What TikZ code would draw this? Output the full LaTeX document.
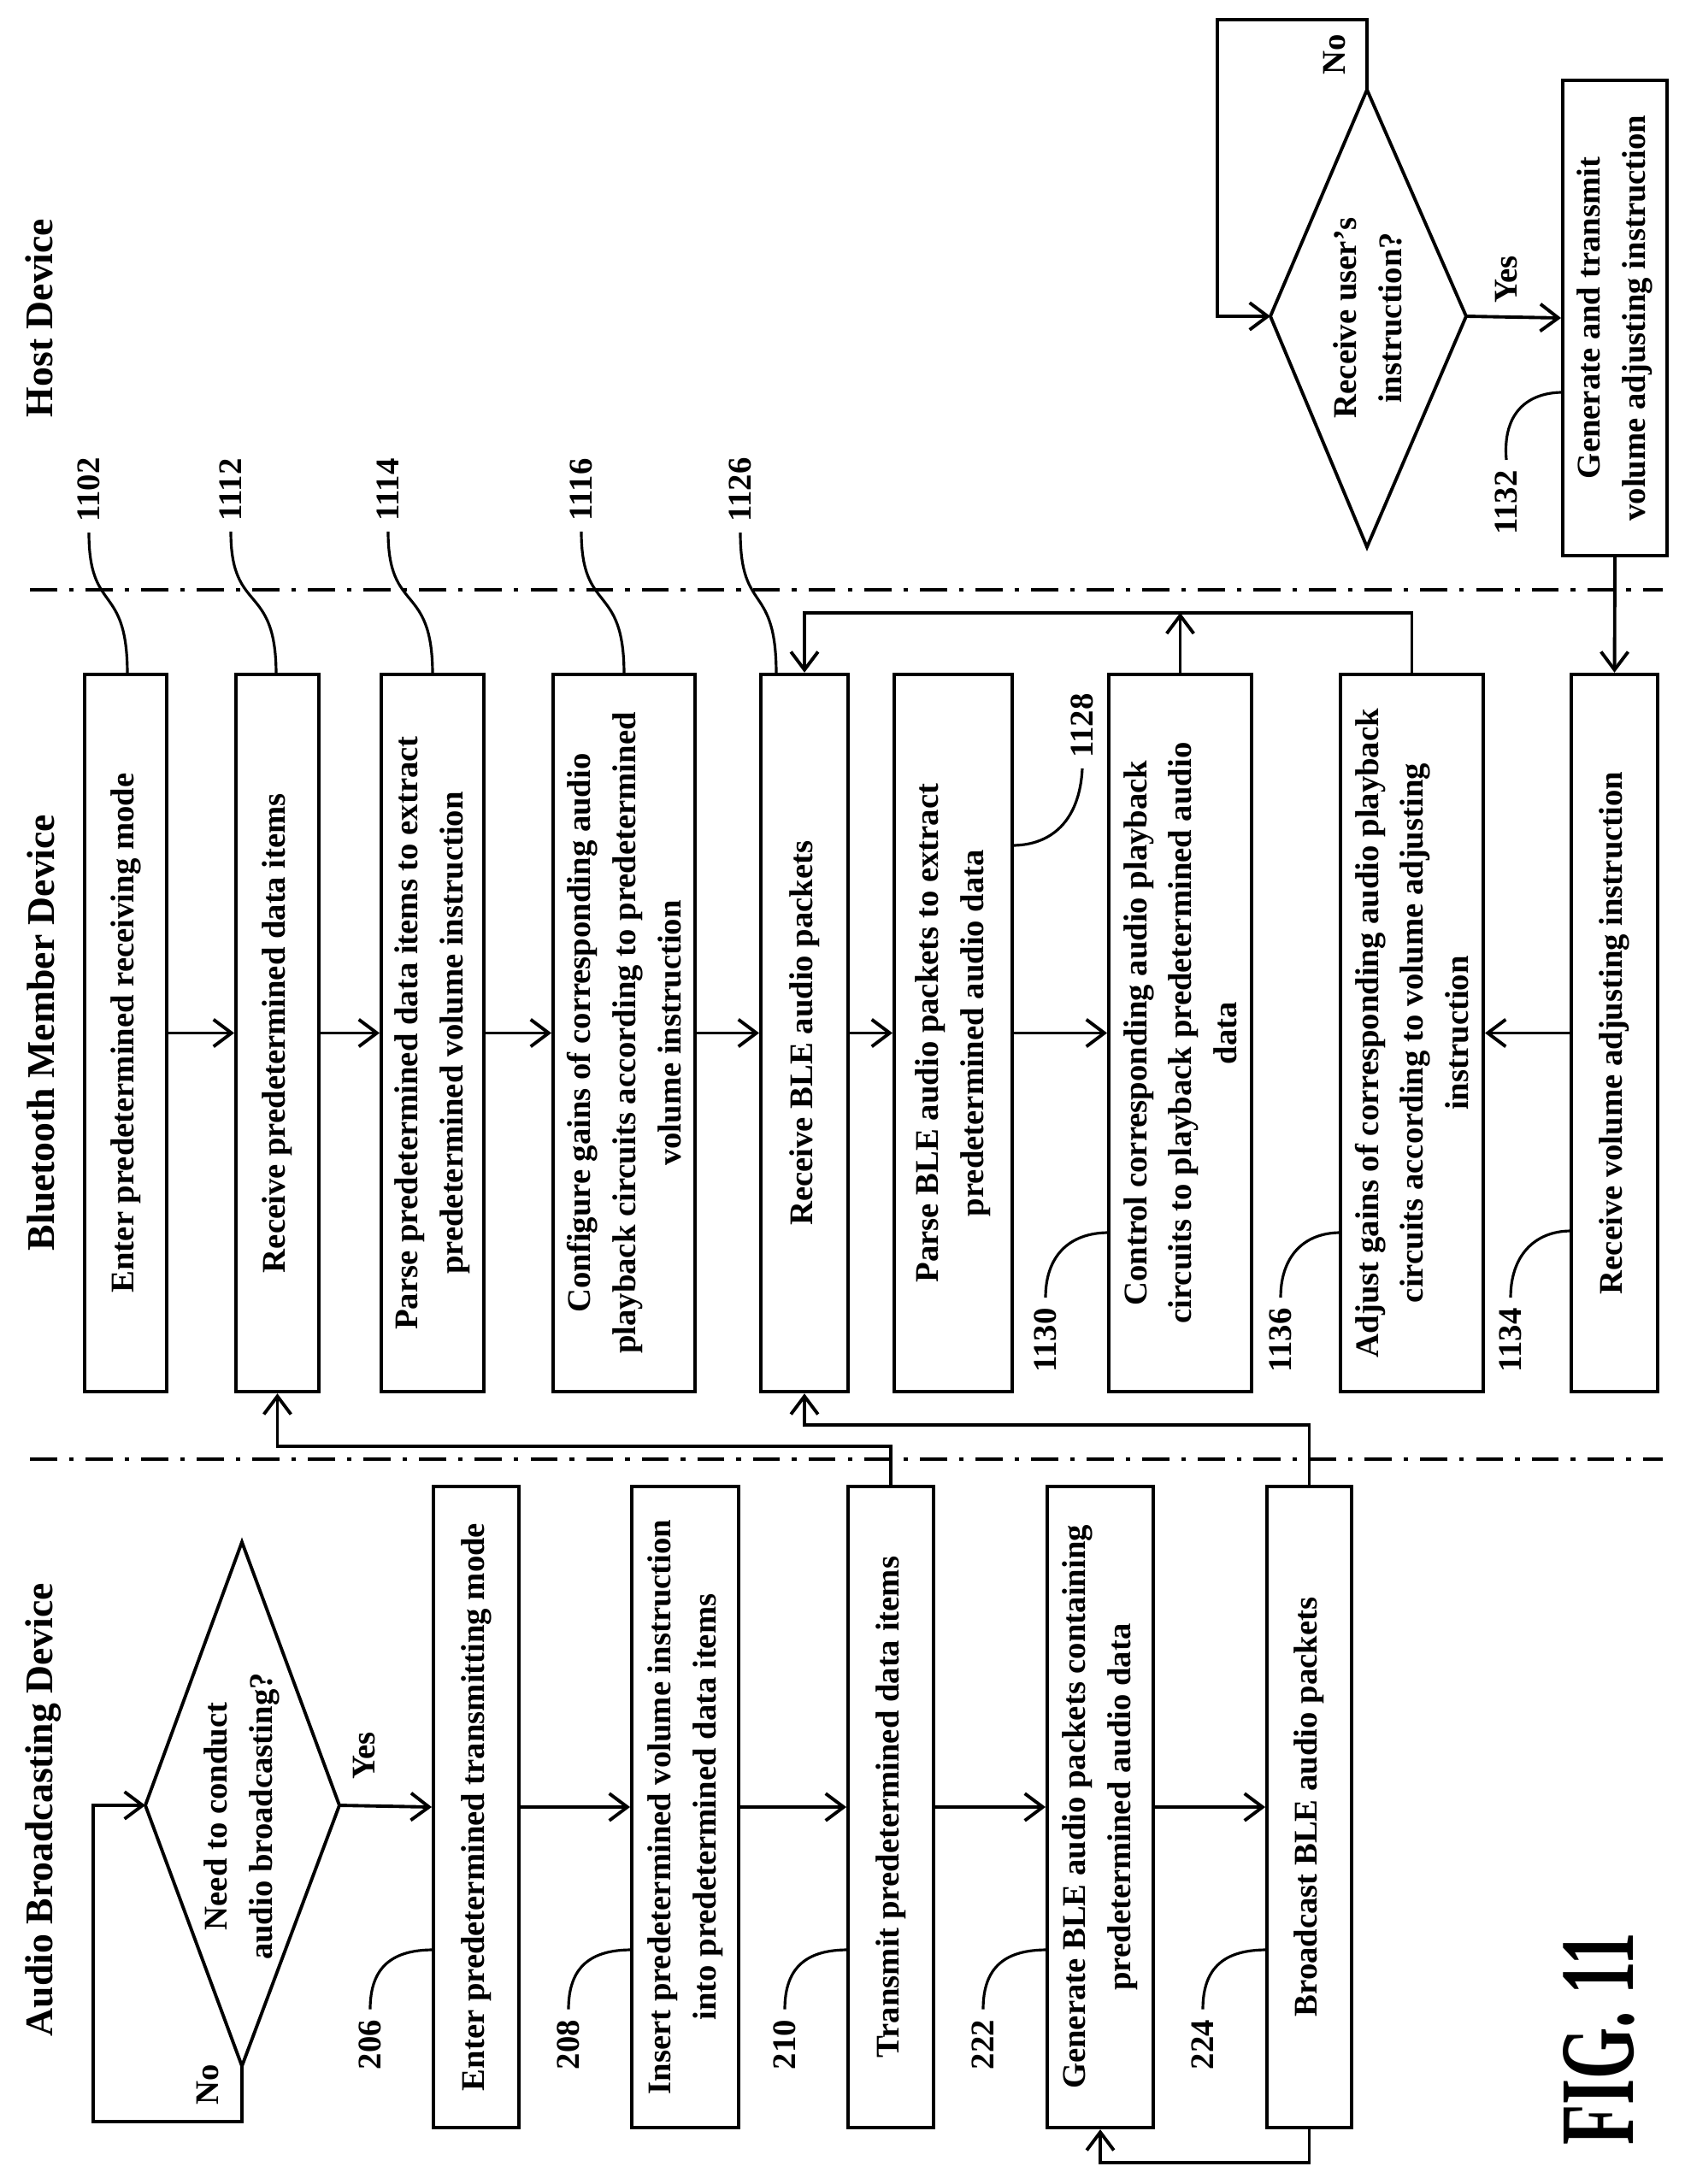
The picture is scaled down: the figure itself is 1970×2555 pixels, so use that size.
\documentclass[tikz,border=0pt]{standalone}
\usepackage{fontspec}
\setmainfont{Liberation Serif}
\usetikzlibrary{arrows.meta}
\tikzset{
  box/.style={draw, line width=1.1pt, rotate=90, align=center, inner sep=2pt,
    font=\fontsize{11}{15}\selectfont\bfseries},
  lbox/.style={box, minimum width=7.5cm},
  mbox/.style={box, minimum width=8.39cm},
  num/.style={rotate=90, font=\fontsize{11}{13}\selectfont\bfseries},
  ttl/.style={rotate=90, font=\fontsize{13}{15}\selectfont\bfseries},
  arr/.style={line width=1.1pt, -{Straight Barb[length=6pt,width=9pt]}},
  ln/.style={line width=1.1pt},
  lead/.style={line width=0.9pt},
  sep/.style={line width=1pt, dash pattern=on 9pt off 4pt on 1.5pt off 4pt}
}
\begin{document}
\begin{tikzpicture}[x=0.01cm, y=-0.01cm]
  \useasboundingbox (0,0) rectangle (1970,2555);
  % lane separators and titles
  \draw[sep] (35,690) -- (1945,690);
  \draw[sep] (35,1707) -- (1945,1707);
  \node[ttl] (tab) at (51,2117) {Audio Broadcasting Device};
  \node[ttl] (tbm) at (48,1208) {Bluetooth Member Device};
  \node[ttl] (thd) at (46,372) {Host Device};
  % audio broadcasting device
  \coordinate (d1t) at (283,1804);
  \coordinate (d1b) at (283,2417);
  \coordinate (d1l) at (170,2112);
  \coordinate (d1r) at (397,2112);
  \draw[ln] (d1t) -- (d1r) -- (d1b) -- (d1l) -- cycle;
  \node[box, draw=none] (need) at (283,2125) {Need to conduct\\audio broadcasting?};
  \node[lbox, minimum height=1.0cm] (b206) at (557,2114) {Enter predetermined transmitting mode};
  \node[lbox, minimum height=1.25cm] (b208) at (801.5,2114) {Insert predetermined volume instruction\\into predetermined data items};
  \node[lbox, minimum height=1.0cm] (b210) at (1042,2114) {Transmit predetermined data items};
  \node[lbox, minimum height=1.24cm] (b222) at (1287,2114) {Generate BLE audio packets containing\\predetermined audio data};
  \node[lbox, minimum height=0.99cm] (b224) at (1531.5,2114) {Broadcast BLE audio packets};
  \draw[arr] (d1b) |- (109,2482) |- (d1l);
  \node[num] (no1) at (243,2439) {No};
  \draw[arr] (d1r) -- (b206.north);
  \node[num] (yes1) at (426,2054) {Yes};
  \draw[arr] (b206.south) -- (b208.north);
  \draw[arr] (b208.south) -- (b210.north);
  \draw[arr] (b210.south) -- (b222.north);
  \draw[arr] (b222.south) -- (b224.north);
  \draw[arr] (b224.west) -- ++(0,39) -| (b222.west);
  \node[num] (n206) at (433,2392) {206};
  \node[num] (n208) at (665,2392) {208};
  \node[num] (n210) at (918,2392) {210};
  \node[num] (n222) at (1150,2392) {222};
  \node[num] (n224) at (1407,2392) {224};
  \draw[lead] (n206.east) .. controls (433,2300) and (460,2281) .. (507,2281);
  \draw[lead] (n208.east) .. controls (665,2300) and (692,2281) .. (739,2281);
  \draw[lead] (n210.east) .. controls (918,2300) and (945,2281) .. (992,2281);
  \draw[lead] (n222.east) .. controls (1150,2300) and (1177,2281) .. (1225,2281);
  \draw[lead] (n224.east) .. controls (1407,2300) and (1434,2281) .. (1482,2281);
  % bluetooth member device
  \node[mbox, minimum height=0.96cm] (r1102) at (147,1208.5) {Enter predetermined receiving mode};
  \node[mbox, minimum height=0.97cm] (r1112) at (324.5,1208.5) {Receive predetermined data items};
  \node[mbox, minimum height=1.2cm] (r1114) at (506,1208.5) {Parse predetermined data items to extract\\predetermined volume instruction};
  \node[mbox, minimum height=1.66cm] (r1116) at (730,1208.5) {Configure gains of corresponding audio\\playback circuits according to predetermined\\volume instruction};
  \node[mbox, minimum height=1.02cm] (r1126) at (941,1208.5) {Receive BLE audio packets};
  \node[mbox, minimum height=1.38cm] (r1128) at (1115,1208.5) {Parse BLE audio packets to extract\\predetermined audio data};
  \node[mbox, minimum height=1.67cm] (r1130) at (1380.5,1208.5) {Control corresponding audio playback\\circuits to playback predetermined audio\\data};
  \node[mbox, minimum height=1.67cm] (r1136) at (1651.5,1208.5) {Adjust gains of corresponding audio playback\\circuits according to volume adjusting\\instruction};
  \node[mbox, minimum height=1.01cm] (r1134) at (1888.5,1208.5) {Receive volume adjusting instruction};
  \draw[arr] (r1102.south) -- (r1112.north);
  \draw[arr] (r1112.south) -- (r1114.north);
  \draw[arr] (r1114.south) -- (r1116.north);
  \draw[arr] (r1116.south) -- (r1126.north);
  \draw[arr] (r1126.south) -- (r1128.north);
  \draw[arr] (r1128.south) -- (r1130.north);
  \draw[arr] (r1134.north) -- (r1136.south);
  \draw[arr] (r1130.east) -- ++(0,-70);
  \draw[arr] (r1136.east) -- ++(0,-70) -| (r1126.east);
  \draw[arr] (b210.east) -- ++(0,-45) -| (r1112.west);
  \draw[arr] (b224.east) -- ++(0,-70) -| (r1126.west);
  \node[num] (n1102) at (104,573) {1102};
  \node[num] (n1112) at (270,573) {1112};
  \node[num] (n1114) at (454,573) {1114};
  \node[num] (n1116) at (680,573) {1116};
  \node[num] (n1126) at (866,573) {1126};
  \draw[lead] (n1102.west) .. controls (104,720) and (149,680) .. (149,789);
  \draw[lead] (n1112.west) .. controls (270,720) and (323,680) .. (323,789);
  \draw[lead] (n1114.west) .. controls (454,720) and (506,680) .. (506,789);
  \draw[lead] (n1116.west) .. controls (680,720) and (730,680) .. (730,789);
  \draw[lead] (n1126.west) .. controls (866,720) and (908,680) .. (908,789);
  \node[num] (n1128) at (1266,849) {1128};
  \draw[lead] (n1128.west) .. controls (1263,960) and (1230,989) .. (1184,989);
  \node[num] (n1130) at (1223,1568) {1130};
  \node[num] (n1136) at (1498,1568) {1136};
  \node[num] (n1134) at (1767,1568) {1134};
  \draw[lead] (n1130.east) .. controls (1223,1470) and (1250,1442) .. (1297,1442);
  \draw[lead] (n1136.east) .. controls (1498,1470) and (1525,1442) .. (1568,1442);
  \draw[lead] (n1134.east) .. controls (1767,1470) and (1794,1440) .. (1838,1440);
  % host device
  \coordinate (d2t) at (1599,105);
  \coordinate (d2b) at (1599,640);
  \coordinate (d2l) at (1486,370);
  \coordinate (d2r) at (1715,370);
  \draw[ln] (d2t) -- (d2r) -- (d2b) -- (d2l) -- cycle;
  \node[box, draw=none] (user) at (1600,372) {Receive user's\\instruction?};
  \node[box, minimum width=5.56cm, minimum height=1.22cm] (gen) at (1889,372) {Generate and transmit\\volume adjusting instruction};
  \draw[arr] (d2t) |- (1424,23) |- (d2l);
  \node[num] (no2) at (1561,64) {No};
  \draw[arr] (d2r) -- (gen.north);
  \node[num] (yes2) at (1762,327) {Yes};
  \draw[arr] (gen.west) -- (r1134.east);
  \node[num] (n1132) at (1762,588) {1132};
  \draw[lead] (n1132.east) .. controls (1757,480) and (1790,459) .. (1828,459);
  \node[rotate=90, yscale=1.6, font=\fontsize{22}{24}\selectfont\bfseries] (fig) at (1870,2385) {FIG. 11};
\end{tikzpicture}
\end{document}
